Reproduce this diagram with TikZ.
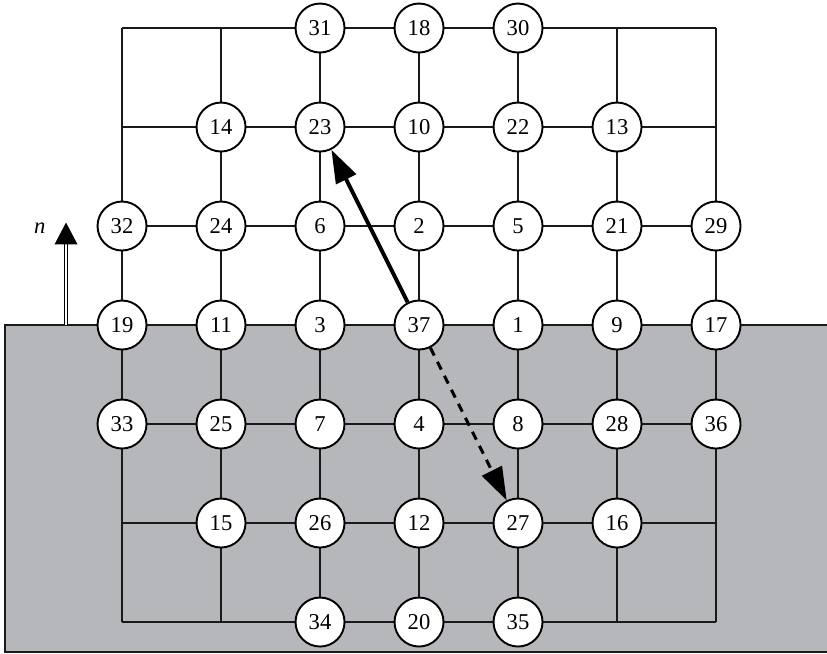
\documentclass[tikz,border=0pt]{standalone}
\usepackage{fontspec}
\setmainfont{Liberation Serif}
\usepackage{xcolor}
\usepackage{tikz}
\usetikzlibrary{arrows.meta}

\definecolor{bulkgray}{RGB}{182,183,187}

\begin{document}
\begin{tikzpicture}[
  font=\fontsize{13}{15}\selectfont,
  site/.style={
    circle,
    draw=black,
    fill=white,
    line width=1.1pt,
    minimum size=0.99cm,
    inner sep=0pt
  },
  lattice/.style={
    draw=black!90,
    line width=1.1pt
  },
  jump/.style={
    line width=2.2pt,
    -{Triangle[length=19pt,width=12.6pt]}
  }
]

\useasboundingbox (-2.465,-6.626) rectangle (14.242,6.566);

% -------------------------------------------------------------------
% bulk region and lattice
% -------------------------------------------------------------------
\fill[bulkgray] (-2.364,0) rectangle (14.242,-6.606);
\draw[lattice, step=2] (0,-6) grid (12,6);
\draw[lattice] (14.242,0) -- (-2.364,0) -- (-2.364,-6.606) -- (14.242,-6.606);

% -------------------------------------------------------------------
% sites, row by row
% -------------------------------------------------------------------
\node[site] (n31) at (4,6) {31};
\node[site] (n18) at (6,6) {18};
\node[site] (n30) at (8,6) {30};

\node[site] (n14) at (2,4) {14};
\node[site] (n23) at (4,4) {23};
\node[site] (n10) at (6,4) {10};
\node[site] (n22) at (8,4) {22};
\node[site] (n13) at (10,4) {13};

\node[site] (n32) at (0,2) {32};
\node[site] (n24) at (2,2) {24};
\node[site] (n6) at (4,2) {6};
\node[site] (n2) at (6,2) {2};
\node[site] (n5) at (8,2) {5};
\node[site] (n21) at (10,2) {21};
\node[site] (n29) at (12,2) {29};

\node[site] (n19) at (0,0) {19};
\node[site] (n11) at (2,0) {11};
\node[site] (n3) at (4,0) {3};
\node[site] (n37) at (6,0) {37};
\node[site] (n1) at (8,0) {1};
\node[site] (n9) at (10,0) {9};
\node[site] (n17) at (12,0) {17};

\node[site] (n33) at (0,-2) {33};
\node[site] (n25) at (2,-2) {25};
\node[site] (n7) at (4,-2) {7};
\node[site] (n4) at (6,-2) {4};
\node[site] (n8) at (8,-2) {8};
\node[site] (n28) at (10,-2) {28};
\node[site] (n36) at (12,-2) {36};

\node[site] (n15) at (2,-4) {15};
\node[site] (n26) at (4,-4) {26};
\node[site] (n12) at (6,-4) {12};
\node[site] (n27) at (8,-4) {27};
\node[site] (n16) at (10,-4) {16};

\node[site] (n34) at (4,-6) {34};
\node[site] (n20) at (6,-6) {20};
\node[site] (n35) at (8,-6) {35};

% -------------------------------------------------------------------
% jumps
% -------------------------------------------------------------------
\draw[jump] (n37) -- (n23);
\draw[jump, line width=1.7pt, dash pattern=on 5pt off 4pt] (n37) -- (n27);

% surface normal
\coordinate (nbase) at (-1.131,0);
\coordinate (nneck) at (-1.131,1.63);
\coordinate (ntip) at (-1.131,2.07);
\draw[double=white, line width=0.8pt, double distance=1.1pt] (nbase) -- (nneck);
\fill (ntip) -- ([xshift=-6.6pt]nneck) -- ([xshift=6.6pt]nneck) -- cycle;
\node[font=\fontsize{13}{15}\selectfont\itshape] (nlabel) at (-1.66,1.96) {n};

\end{tikzpicture}
\end{document}
